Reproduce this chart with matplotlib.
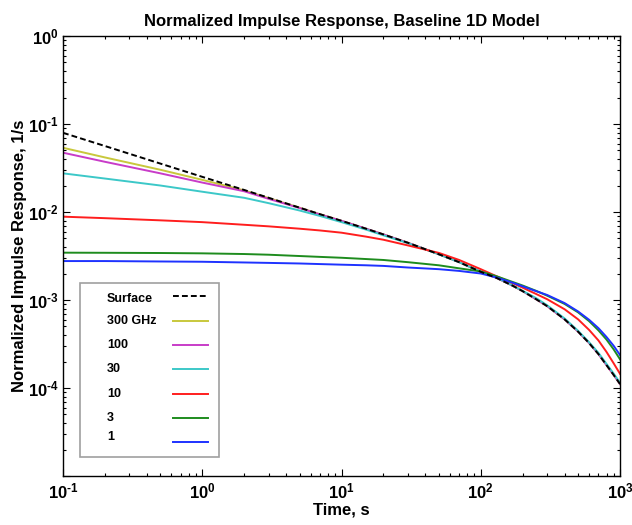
import matplotlib
matplotlib.use("Agg")
import matplotlib.pyplot as plt
from matplotlib.lines import Line2D
from matplotlib.patches import Rectangle
from matplotlib.ticker import LogLocator, FixedLocator, FixedFormatter, NullFormatter

plt.rcParams['font.family'] = ['Liberation Sans', 'DejaVu Sans']
plt.rcParams['mathtext.fontset'] = 'custom'
plt.rcParams['mathtext.rm'] = 'Liberation Sans:bold'
plt.rcParams['mathtext.bf'] = 'Liberation Sans:bold'
plt.rcParams['mathtext.it'] = 'Liberation Sans:bold'

# ---- data ----
time_s = [0.1, 0.2, 0.5, 1, 2, 3, 5, 7, 10, 15, 20, 30, 50, 70, 100, 130, 170, 200,
          250, 300, 400, 500, 600, 700, 800, 900, 1000]

surface = [7.94e-2, 5.62e-2, 3.55e-2, 2.51e-2, 1.78e-2, 1.45e-2, 1.12e-2, 9.44e-3, 7.94e-3,
           6.46e-3, 5.56e-3, 4.47e-3, 3.31e-3, 2.69e-3, 2.09e-3, 1.78e-3, 1.45e-3, 1.26e-3,
           1.02e-3, 8.51e-4, 6.03e-4, 4.37e-4, 3.24e-4, 2.43e-4, 1.82e-4, 1.41e-4, 1.11e-4]
ghz300 = [5.37e-2, 4.17e-2, 3.02e-2, 2.32e-2, 1.76e-2, 1.44e-2, 1.12e-2, 9.44e-3, 7.94e-3,
          6.46e-3, 5.56e-3, 4.47e-3, 3.31e-3, 2.69e-3, 2.09e-3, 1.78e-3, 1.45e-3, 1.26e-3,
          1.02e-3, 8.51e-4, 6.03e-4, 4.37e-4, 3.24e-4, 2.43e-4, 1.82e-4, 1.41e-4, 1.11e-4]
ghz100 = [4.72e-2, 3.72e-2, 2.75e-2, 2.16e-2, 1.72e-2, 1.41e-2, 1.11e-2, 9.38e-3, 7.94e-3,
          6.46e-3, 5.56e-3, 4.47e-3, 3.31e-3, 2.69e-3, 2.09e-3, 1.78e-3, 1.45e-3, 1.26e-3,
          1.02e-3, 8.51e-4, 6.03e-4, 4.37e-4, 3.24e-4, 2.43e-4, 1.82e-4, 1.41e-4, 1.11e-4]
ghz30 = [2.75e-2, 2.40e-2, 2.00e-2, 1.70e-2, 1.45e-2, 1.26e-2, 1.04e-2, 9.02e-3, 7.67e-3,
         6.31e-3, 5.43e-3, 4.42e-3, 3.31e-3, 2.69e-3, 2.11e-3, 1.80e-3, 1.46e-3, 1.27e-3,
         1.05e-3, 8.71e-4, 6.17e-4, 4.47e-4, 3.31e-4, 2.51e-4, 1.88e-4, 1.46e-4, 1.15e-4]
ghz10 = [8.85e-3, 8.51e-3, 8.04e-3, 7.67e-3, 7.16e-3, 6.87e-3, 6.46e-3, 6.17e-3, 5.82e-3,
         5.25e-3, 4.84e-3, 4.17e-3, 3.43e-3, 2.85e-3, 2.24e-3, 1.86e-3, 1.55e-3, 1.38e-3,
         1.17e-3, 1.02e-3, 7.85e-4, 6.03e-4, 4.57e-4, 3.47e-4, 2.57e-4, 1.91e-4, 1.45e-4]
ghz3 = [3.45e-3, 3.44e-3, 3.42e-3, 3.39e-3, 3.33e-3, 3.27e-3, 3.16e-3, 3.09e-3, 3.02e-3,
        2.92e-3, 2.85e-3, 2.69e-3, 2.48e-3, 2.29e-3, 2.11e-3, 1.86e-3, 1.60e-3, 1.46e-3,
        1.27e-3, 1.12e-3, 9.02e-4, 7.24e-4, 5.75e-4, 4.52e-4, 3.55e-4, 2.75e-4, 2.12e-4]
ghz1 = [2.77e-3, 2.77e-3, 2.74e-3, 2.72e-3, 2.67e-3, 2.64e-3, 2.60e-3, 2.56e-3, 2.52e-3,
        2.48e-3, 2.44e-3, 2.34e-3, 2.24e-3, 2.14e-3, 2.00e-3, 1.80e-3, 1.57e-3, 1.43e-3,
        1.26e-3, 1.14e-3, 9.23e-4, 7.41e-4, 5.96e-4, 4.79e-4, 3.80e-4, 3.02e-4, 2.37e-4]

labels = ['Surface', '300 GHz', '100', '30', '10', '3', '1']
colors = ['black', '#c8c83c', '#c83cc8', '#3cc8c8', '#ff1e1e', '#1e8c1e', '#1e32ff']

x_ticks = [0.1, 1, 10, 100, 1000]
x_tick_labels = [r'$10^{\text{-1}}$', r'$10^{0}$', r'$10^{1}$', r'$10^{2}$', r'$10^{3}$']
y_ticks = [1e-5, 1e-4, 1e-3, 1e-2, 1e-1, 1]
y_tick_labels = ['', r'$10^{\text{-4}}$', r'$10^{\text{-3}}$', r'$10^{\text{-2}}$',
                 r'$10^{\text{-1}}$', r'$10^{0}$']

W, H = 632, 525
fig = plt.figure(figsize=(W / 100, H / 100), dpi=100)
ax_l, ax_r, ax_t, ax_b = 63, 620, 36, 476
ax = fig.add_axes([ax_l / W, 1 - ax_b / H, (ax_r - ax_l) / W, (ax_b - ax_t) / H])

series = [surface, ghz300, ghz100, ghz30, ghz10, ghz3, ghz1]
for i in range(1, len(series)):
    ax.plot(time_s, series[i], color=colors[i], lw=1.4, zorder=2)
ax.plot(time_s, surface, color='black', lw=1.4, ls=(0, (3, 1.6)), zorder=5)

ax.set_xscale('log')
ax.set_yscale('log')
ax.set_xlim(0.1, 1000)
ax.set_ylim(1e-5, 1)

ax.xaxis.set_major_locator(FixedLocator(x_ticks))
ax.xaxis.set_major_formatter(FixedFormatter(x_tick_labels))
ax.yaxis.set_major_locator(FixedLocator(y_ticks))
ax.yaxis.set_major_formatter(FixedFormatter(y_tick_labels))
ax.xaxis.set_minor_locator(LogLocator(base=10, subs=range(2, 10), numticks=20))
ax.yaxis.set_minor_locator(LogLocator(base=10, subs=range(2, 10), numticks=20))
ax.xaxis.set_minor_formatter(NullFormatter())
ax.yaxis.set_minor_formatter(NullFormatter())

ax.tick_params(which='both', direction='in', top=True, right=True, width=0.8)
ax.tick_params(which='major', length=5, labelsize=12)
ax.tick_params(axis='x', which='major', pad=4)
ax.tick_params(axis='y', which='major', pad=3)
ax.tick_params(which='minor', length=2.5)
for sp in ax.spines.values():
    sp.set_linewidth(1.0)

ax.set_title('Normalized Impulse Response, Baseline 1D Model', fontsize=12,
             fontweight='bold', pad=7)
ax.set_xlabel('Time, s', fontsize=12, fontweight='bold', labelpad=1)
ax.set_ylabel('Normalized Impulse Response, 1/s', fontsize=12, fontweight='bold', labelpad=1)

# ---- legend box (text on the left, line sample on the right) ----
def fx(px):
    return (px - ax_l) / (ax_r - ax_l)

def fy(py):
    return (ax_b - py) / (ax_b - ax_t)

ax.add_patch(Rectangle((fx(80), fy(457)), fx(219) - fx(80), fy(283) - fy(457),
                       transform=ax.transAxes, facecolor='white', edgecolor='#a0a0a0',
                       lw=1.2, zorder=8))
text_rows = [299, 321, 345, 369, 394, 418, 437]
line_rows = [296, 321, 345, 369, 394, 418, 442]
for i, lab in enumerate(labels):
    ax.text(fx(107), fy(text_rows[i]), lab, transform=ax.transAxes, fontsize=9,
            fontweight='bold', ha='left', va='center', zorder=9)
    ls = (0, (3, 1.6)) if i == 0 else '-'
    ax.add_line(Line2D([fx(173), fx(208)], [fy(line_rows[i])] * 2, transform=ax.transAxes,
                       color=colors[i], lw=1.4, ls=ls, zorder=9))

fig.savefig('out.png', dpi=100)
